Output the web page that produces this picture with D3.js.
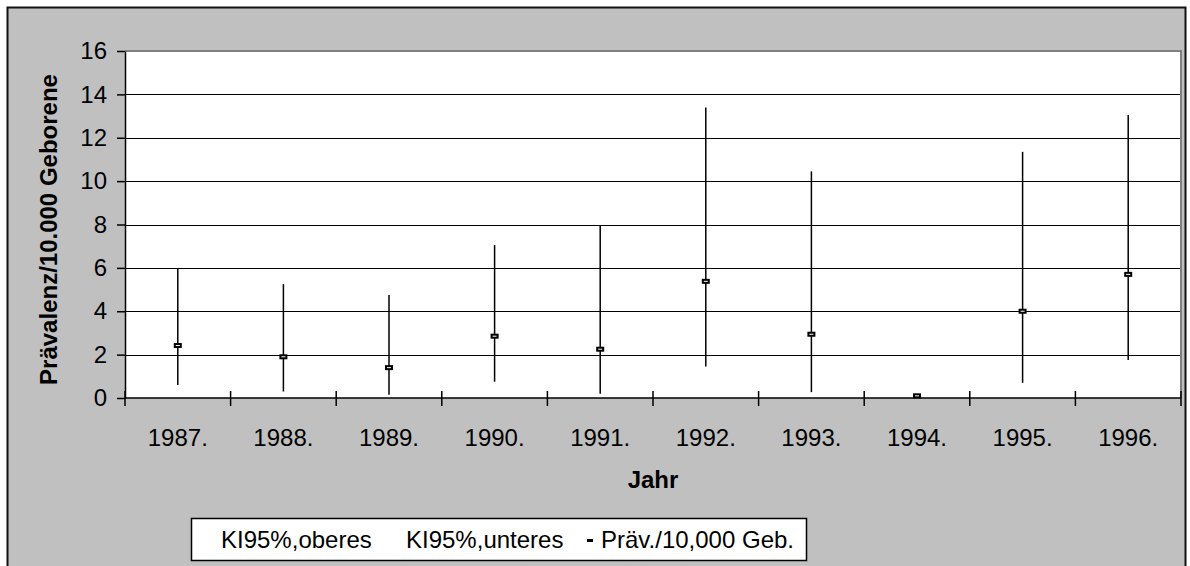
<!DOCTYPE html>
<html lang="de">
<head>
  <meta charset="UTF-8">
  <title>Prävalenz/10.000 Geborene</title>
  <style>
    body { margin: 0; background: #fff; }
    svg { display: block; font-family: "Liberation Sans", Arial, sans-serif; }
  </style>
</head>
<body>
  <svg id="chart"></svg>
  <script src="https://d3js.org/d3.v7.min.js"></script>
  <script>
    // data
    const years = ["1987.", "1988.", "1989.", "1990.", "1991.", "1992.", "1993.", "1994.", "1995.", "1996."];
    const upper = [6.0, 5.25, 4.75, 7.05, 7.95, 13.4, 10.45, 0.1, 11.35, 13.05];
    const lower = [0.6, 0.3, 0.15, 0.75, 0.2, 1.45, 0.27, 0.1, 0.7, 1.75];
    const prev = [2.42, 1.9, 1.4, 2.85, 2.25, 5.38, 2.94, 0.1, 4.0, 5.7];
    const yTicks = [0, 2, 4, 6, 8, 10, 12, 14, 16];
    const legendLabels = ["KI95%,oberes", "KI95%,unteres", "Präv./10,000 Geb."];

    const width = 1190, height = 566;
    const plot = { left: 125, right: 1181, top: 51, bottom: 398 };
    const fs = 24;

    const svg = d3.select("#chart")
      .attr("width", width)
      .attr("height", height);

    // grey chart area with black frame
    svg.append("rect")
      .attr("x", 0).attr("y", 0)
      .attr("width", width).attr("height", height)
      .attr("fill", "#fff");
    svg.append("rect")
      .attr("x", 7.5).attr("y", 7.5)
      .attr("width", 1178).attr("height", 580)
      .attr("fill", "#c0c0c0")
      .attr("stroke", "#111")
      .attr("stroke-width", 2);

    const x = d3.scaleBand()
      .domain(years)
      .range([plot.left, plot.right])
      .padding(0);

    const y = d3.scaleLinear()
      .domain([0, 16])
      .range([plot.bottom, plot.top]);

    // plot area
    svg.append("rect")
      .attr("x", plot.left).attr("y", plot.top)
      .attr("width", plot.right - plot.left)
      .attr("height", plot.bottom - plot.top)
      .attr("fill", "#fff");

    // gridlines
    svg.append("g")
      .selectAll("line")
      .data(yTicks.filter(d => d > 0 && d < 16))
      .join("line")
      .attr("x1", plot.left).attr("x2", plot.right)
      .attr("y1", d => Math.round(y(d)) + 0.5)
      .attr("y2", d => Math.round(y(d)) + 0.5)
      .attr("stroke", "#000")
      .attr("stroke-width", 1);

    // plot border (top / right) in grey
    svg.append("path")
      .attr("d", `M${plot.left},${plot.top} H${plot.right} V${plot.bottom}`)
      .attr("fill", "none")
      .attr("stroke", "#808080")
      .attr("stroke-width", 2);

    // y axis
    const yAxis = svg.append("g")
      .attr("transform", `translate(${plot.left},0)`)
      .call(d3.axisLeft(y).tickValues(yTicks).tickSize(8).tickPadding(10).tickSizeOuter(0));
    yAxis.select(".domain").attr("stroke", "#000").attr("stroke-width", 1.5);
    yAxis.selectAll(".tick line").attr("stroke", "#000").attr("stroke-width", 1.5);
    yAxis.selectAll("text")
      .attr("font-size", fs)
      .attr("fill", "#000")
      .attr("font-family", "Liberation Sans, Arial, sans-serif");

    // x axis line with crossing ticks at category boundaries
    const xg = svg.append("g");
    xg.append("line")
      .attr("x1", plot.left).attr("x2", plot.right)
      .attr("y1", plot.bottom).attr("y2", plot.bottom)
      .attr("stroke", "#000").attr("stroke-width", 1.5);
    const bounds = years.map(d => x(d)).concat([x(years[years.length - 1]) + x.bandwidth()]);
    xg.selectAll("line.tick")
      .data(bounds)
      .join("line")
      .attr("class", "tick")
      .attr("x1", d => d).attr("x2", d => d)
      .attr("y1", plot.bottom - 7).attr("y2", plot.bottom + 8)
      .attr("stroke", "#000").attr("stroke-width", 1.5);
    xg.selectAll("text")
      .data(years)
      .join("text")
      .attr("x", d => x(d) + x.bandwidth() / 2)
      .attr("y", 446)
      .attr("text-anchor", "middle")
      .attr("font-size", fs)
      .text(d => d);

    // error bars (confidence interval)
    svg.append("g")
      .selectAll("line")
      .data(years.map((d, i) => ({ year: d, hi: upper[i], lo: lower[i] })).filter(d => d.hi > d.lo))
      .join("line")
      .attr("x1", d => x(d.year) + x.bandwidth() / 2)
      .attr("x2", d => x(d.year) + x.bandwidth() / 2)
      .attr("y1", d => y(d.hi))
      .attr("y2", d => y(d.lo))
      .attr("stroke", "#000")
      .attr("stroke-width", 1.5);

    // prevalence markers
    svg.append("g")
      .selectAll("rect")
      .data(years.map((d, i) => ({ year: d, v: prev[i] })))
      .join("rect")
      .attr("x", d => x(d.year) + x.bandwidth() / 2 - 3)
      .attr("y", d => y(d.v) - 1.5)
      .attr("width", 6).attr("height", 3)
      .attr("fill", "#fff")
      .attr("stroke", "#000")
      .attr("stroke-width", 2);

    // axis titles
    svg.append("text")
      .attr("transform", `translate(57,${(plot.top + plot.bottom) / 2 + 5}) rotate(-90)`)
      .attr("text-anchor", "middle")
      .attr("font-size", fs)
      .attr("font-weight", "bold")
      .text("Prävalenz/10.000 Geborene");

    svg.append("text")
      .attr("x", (plot.left + plot.right) / 2)
      .attr("y", 488)
      .attr("text-anchor", "middle")
      .attr("font-size", fs)
      .attr("font-weight", "bold")
      .text("Jahr");

    // legend
    const lg = svg.append("g");
    lg.append("rect")
      .attr("x", 191.5).attr("y", 518.5)
      .attr("width", 615).attr("height", 42)
      .attr("fill", "#fff")
      .attr("stroke", "#000")
      .attr("stroke-width", 1.5);
    const legendX = [221, 406, 601];
    lg.selectAll("text")
      .data(legendLabels)
      .join("text")
      .attr("x", (d, i) => legendX[i])
      .attr("y", 548)
      .attr("font-size", fs)
      .text(d => d);
    lg.append("rect")
      .attr("x", 587).attr("y", 539)
      .attr("width", 6).attr("height", 3)
      .attr("fill", "#000");
  </script>
</body>
</html>
